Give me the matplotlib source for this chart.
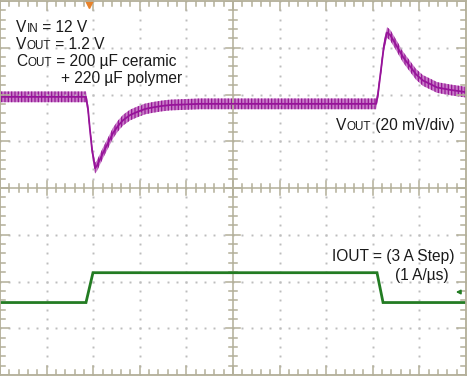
import numpy as np
import matplotlib
matplotlib.use("Agg")
import matplotlib.pyplot as plt

# Scope settings
US_PER_DIV = 20.0      # timebase
MV_PER_DIV = 20.0      # channel 1, VOUT ac
A_PER_DIV = 4.7        # channel 2, IOUT
VOUT_ZERO_DIV = 6.0    # screen position of VOUT level 0
IOUT_ZERO_DIV = 1.55   # screen position of IOUT = 0 A

# VOUT trace (mV deviation vs time in us)
t_vout = [0, 36.9, 37.8, 38.6, 39.5, 40.8, 41.6, 44.2, 46.4, 48.5, 50.6, 52.8,
          55.8, 58.8, 62.2, 65.7, 69.5, 73.0, 85.8, 98.7, 128.8, 161.4, 162.2,
          163.5, 164.8, 166.1, 167.4, 168.2, 170.4, 173.0, 176.0, 178.5, 181.5,
          184.6, 187.6, 193.1, 200.0]
vout_mv = [-1, -1, -6.5, -15, -23.5, -31.5, -30.5, -25, -20.7, -16.5, -13.5, -11,
           -8.8, -7.5, -6.2, -5.5, -4.9, -4.5, -4, -4, -4, -4, 0,
           10.5, 21, 26.5, 25.5, 24.2, 20.5, 16, 12, 8.7, 6,
           4.5, 3, 2, 1]
noise_mv = 2.3

# IOUT trace (A vs time in us)
t_iout = [0, 36.9, 39.9, 161.8, 164.4, 200.0]
iout_a = [0, 0, 3, 3, 0, 0]

plt.rcParams["hatch.linewidth"] = 0.9

W, H = 469, 376
fig = plt.figure(figsize=(W / 100, H / 100), dpi=100)
ax = fig.add_axes([0, 1 / H, 466 / W, 374 / H])
ax.set_xlim(0, 10)
ax.set_ylim(0, 8)
ax.set_xticks([])
ax.set_yticks([])
frame = "#b3af99"
for s in ax.spines.values():
    s.set_color(frame)
    s.set_linewidth(1.3)

# graticule dots
dot = "#bdbdbd"
minor = np.arange(0, 10.01, 0.2)
minor_y = np.arange(0, 8.01, 0.2)
for i in range(1, 10):
    if i != 5:
        ax.plot(np.full_like(minor_y, i), minor_y, ls="none", marker="s", ms=1.4, mec="none", mfc=dot)
for j in range(1, 8):
    if j != 4:
        ax.plot(minor, np.full_like(minor, j), ls="none", marker="s", ms=1.4, mec="none", mfc=dot)

# center cross and tick marks
ax.axvline(5, color=frame, lw=1.1)
ax.axhline(4, color=frame, lw=1.1)
px_x = 10 / 466
px_y = 8 / 374
for x in minor:
    major = abs(x - round(x)) < 1e-6
    ly = (7 if major else 4) * px_y
    ax.plot([x, x], [4 - ly, 4 + ly], color=frame, lw=1.1)
    ly = (9 if major else 5) * px_y
    ax.plot([x, x], [0, ly], color=frame, lw=1.1)
    ax.plot([x, x], [8 - ly, 8], color=frame, lw=1.1)
for y in minor_y:
    major = abs(y - round(y)) < 1e-6
    lx = (7 if major else 4) * px_x
    ax.plot([5 - lx, 5 + lx], [y, y], color=frame, lw=1.1)
    lx = (9 if major else 5) * px_x
    ax.plot([0, lx], [y, y], color=frame, lw=1.1)
    ax.plot([10 - lx, 10], [y, y], color=frame, lw=1.1)

# traces
tv = np.array(t_vout) / US_PER_DIV
yv = VOUT_ZERO_DIV + np.array(vout_mv) / MV_PER_DIV
band = noise_mv / MV_PER_DIV
ax.fill_between(tv, yv - band, yv + band, facecolor="#c97ec9", edgecolor="#951595",
                hatch="|||||", lw=0)
ax.plot(tv, yv, color="#97139a", lw=1.3)

ti = np.array(t_iout) / US_PER_DIV
yi = IOUT_ZERO_DIV + np.array(iout_a) / A_PER_DIV
ax.plot(ti, yi, color="#237c23", lw=2.0, solid_joinstyle="miter")

# markers: trigger position and channel 2 ground
ax.plot([38.2 / US_PER_DIV], [8 - 3 * px_y], marker="v", ms=6, color="#e8822a", clip_on=False)
ax.annotate("", xy=(453 / 46.6, 1.775), xytext=(463 / 46.6, 1.775),
            arrowprops=dict(arrowstyle="-|>", color="#237c23", lw=1.2, mutation_scale=6))

# annotations
renderer = fig.canvas.get_renderer()
txt = "#1a1a1a"
big, small = 11.2, 8.4


def write(x_px, y_px, parts):
    for s, size in parts:
        t = fig.text(x_px / W, 1 - y_px / H, s, fontsize=size, color=txt,
                     family="Liberation Sans", va="baseline", ha="left")
        x_px += t.get_window_extent(renderer).width


write(16, 32, [("V", big), ("IN", small), (" = 12 V", big)])
write(16, 49, [("V", big), ("OUT", small), (" = 1.2 V", big)])
write(16, 66, [("C", big), ("OUT", small), (" = 200 µF ceramic", big)])
write(61, 83, [("+ 220 µF polymer", big)])
write(336, 130, [("V", big), ("OUT", small), (" (20 mV/div)", big)])
write(332, 261, [("IOUT = (3 A Step)", big)])
write(395, 280, [("(1 A/µs)", big)])

fig.savefig("out.png", dpi=100)
